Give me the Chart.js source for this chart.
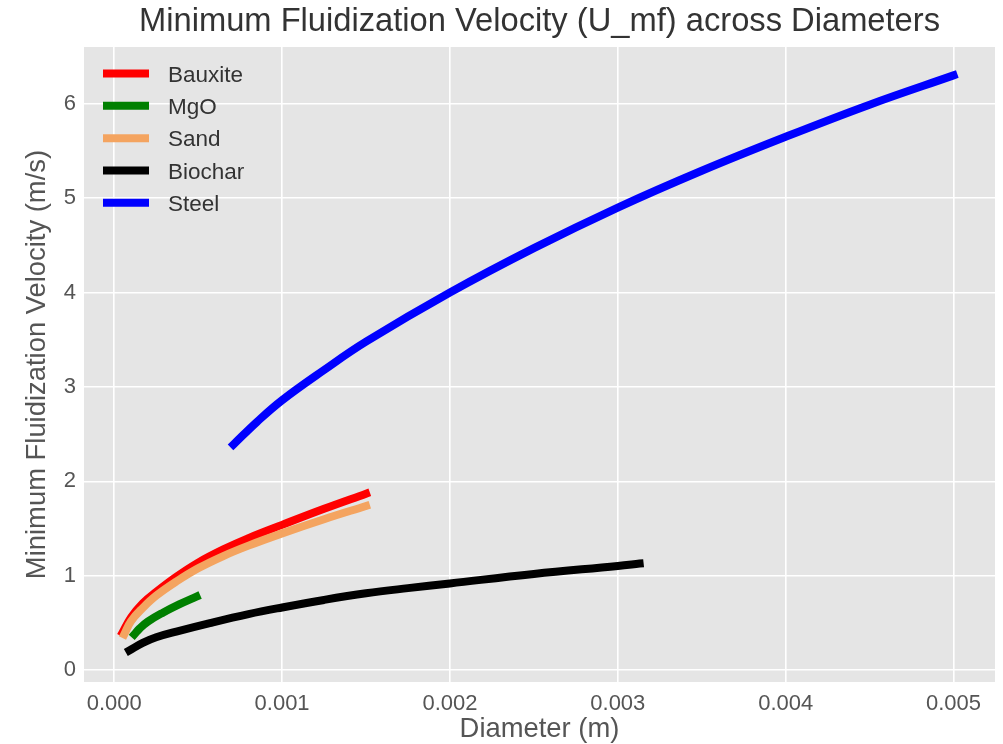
<!DOCTYPE html>
<html>
<head>
<meta charset="utf-8">
<title>Minimum Fluidization Velocity</title>
<script src="https://cdn.jsdelivr.net/npm/chart.js@4.4.1/dist/chart.umd.min.js"></script>
<style>
  html, body { margin: 0; padding: 0; background: #fff; }
  #chart { display: block; }
</style>
</head>
<body>
<canvas id="chart" width="1003" height="744"></canvas>
<script>
"use strict";

// values (diameter in m, U_mf in m/s)
const materials = ["Bauxite", "MgO", "Sand", "Biochar", "Steel"];
const colors = ["#ff0000", "#008000", "#f4a460", "#000000", "#0000ff"];

const bauxiteD = [0.00005, 0.0001, 0.00017, 0.00025, 0.00037, 0.0005, 0.00065, 0.0008, 0.001, 0.00125, 0.0015];
const bauxiteU = [0.40, 0.56, 0.71, 0.83, 0.99, 1.14, 1.28, 1.40, 1.54, 1.71, 1.87];

const mgoD = [0.00012, 0.00015, 0.0002, 0.00029, 0.00039, 0.00049];
const mgoU = [0.38, 0.44, 0.515, 0.61, 0.70, 0.78];

const sandD = [0.00006, 0.0001, 0.00017, 0.00025, 0.00037, 0.0005, 0.00065, 0.0008, 0.001, 0.00125, 0.0015];
const sandU = [0.38, 0.52, 0.66, 0.79, 0.94, 1.08, 1.21, 1.32, 1.45, 1.60, 1.74];

const biocharD = [0.00009, 0.00017, 0.00025, 0.00037, 0.00057, 0.0008, 0.001, 0.00125, 0.0015, 0.00175, 0.002, 0.0025, 0.003, 0.00313];
const biocharU = [0.21, 0.29, 0.35, 0.41, 0.50, 0.595, 0.665, 0.745, 0.815, 0.87, 0.92, 1.02, 1.105, 1.13];

const steelD = [0.00071, 0.00085, 0.001, 0.00125, 0.0015, 0.002, 0.0025, 0.003, 0.0035, 0.004, 0.0045, 0.005];
const steelU = [2.39, 2.63, 2.86, 3.18, 3.48, 4.00, 4.47, 4.90, 5.29, 5.65, 5.99, 6.30];

const xTicks = [0, 0.001, 0.002, 0.003, 0.004, 0.005];
const yTicks = [0, 1, 2, 3, 4, 5, 6];

const seriesD = [bauxiteD, mgoD, sandD, biocharD, steelD];
const seriesU = [bauxiteU, mgoU, sandU, biocharU, steelU];

const FONT = "'Liberation Sans', Arial, sans-serif";
Chart.defaults.font.family = FONT;

function toPoints(xs, ys) {
    return xs.map((x, i) => ({ x: x, y: ys[i] }));
}

const datasets = materials.map((name, i) => ({
    label: name,
    data: toPoints(seriesD[i], seriesU[i]),
    borderColor: colors[i],
    backgroundColor: colors[i],
    borderWidth: 8,
    borderCapStyle: "square",
    borderJoinStyle: "round",
    pointRadius: 0,
    showLine: true,
    fill: false,
    tension: 0.4,
    // later series sit on top, like matplotlib
    order: materials.length - 1 - i
}));

const plotBackground = {
    id: "plotBackground",
    beforeDraw(chart) {
        const ctx = chart.ctx;
        const a = chart.chartArea;
        ctx.save();
        ctx.fillStyle = "#ffffff";
        ctx.fillRect(0, 0, chart.width, chart.height);
        ctx.fillStyle = "#e5e5e5";
        ctx.fillRect(a.left, a.top, a.right - a.left, a.bottom - a.top);
        ctx.restore();
    }
};

// legend inside the plot, top left, no frame
const insideLegend = {
    id: "insideLegend",
    afterDraw(chart) {
        const ctx = chart.ctx;
        const a = chart.chartArea;
        ctx.save();
        ctx.font = "22.5px " + FONT;
        ctx.textBaseline = "middle";
        ctx.textAlign = "left";
        chart.data.datasets.forEach((ds, i) => {
            const y = a.top + 26.5 + i * 32.3;
            ctx.strokeStyle = ds.borderColor;
            ctx.lineWidth = 8;
            ctx.lineCap = "butt";
            ctx.beginPath();
            ctx.moveTo(a.left + 19, y);
            ctx.lineTo(a.left + 65, y);
            ctx.stroke();
            ctx.fillStyle = "#333333";
            ctx.fillText(ds.label, a.left + 84, y + 2);
        });
        ctx.restore();
    }
};

new Chart(document.getElementById("chart").getContext("2d"), {
    type: "scatter",
    data: { datasets: datasets },
    options: {
        responsive: false,
        animation: false,
        layout: { padding: { left: 0, right: 8, top: 0, bottom: 0 } },
        plugins: {
            legend: { display: false },
            tooltip: { enabled: false },
            title: {
                display: true,
                fullSize: false,
                text: "Minimum Fluidization Velocity (U_mf) across Diameters",
                color: "#333333",
                font: { size: 32.7, weight: "normal", family: FONT },
                padding: { top: 2, bottom: 5.8 }
            }
        },
        scales: {
            x: {
                type: "linear",
                min: -0.00018,
                max: 0.005247,
                afterBuildTicks(scale) {
                    scale.ticks = xTicks.map(v => ({ value: v }));
                },
                afterFit(scale) {
                    scale.height = 62;
                },
                ticks: {
                    callback: v => Number(v).toFixed(3),
                    color: "#555555",
                    font: { size: 22 },
                    padding: 8.5,
                    maxRotation: 0,
                    autoSkip: false
                },
                grid: { color: "#ffffff", lineWidth: 1.6, drawTicks: false },
                border: { display: false },
                title: {
                    display: true,
                    text: "Diameter (m)",
                    color: "#555555",
                    font: { size: 27.4 },
                    padding: { top: 0, bottom: -1.5 }
                }
            },
            y: {
                type: "linear",
                min: -0.124,
                max: 6.6,
                afterBuildTicks(scale) {
                    scale.ticks = yTicks.map(v => ({ value: v }));
                },
                afterFit(scale) {
                    scale.width = 84;
                },
                ticks: {
                    callback: v => String(v),
                    color: "#555555",
                    font: { size: 22 },
                    padding: 8
                },
                grid: { color: "#ffffff", lineWidth: 1.6, drawTicks: false },
                border: { display: false },
                title: {
                    display: true,
                    text: "Minimum Fluidization Velocity (m/s)",
                    color: "#555555",
                    font: { size: 27.4 },
                    padding: { top: 21, bottom: 0 }
                }
            }
        }
    },
    plugins: [plotBackground, insideLegend]
});
</script>
</body>
</html>
